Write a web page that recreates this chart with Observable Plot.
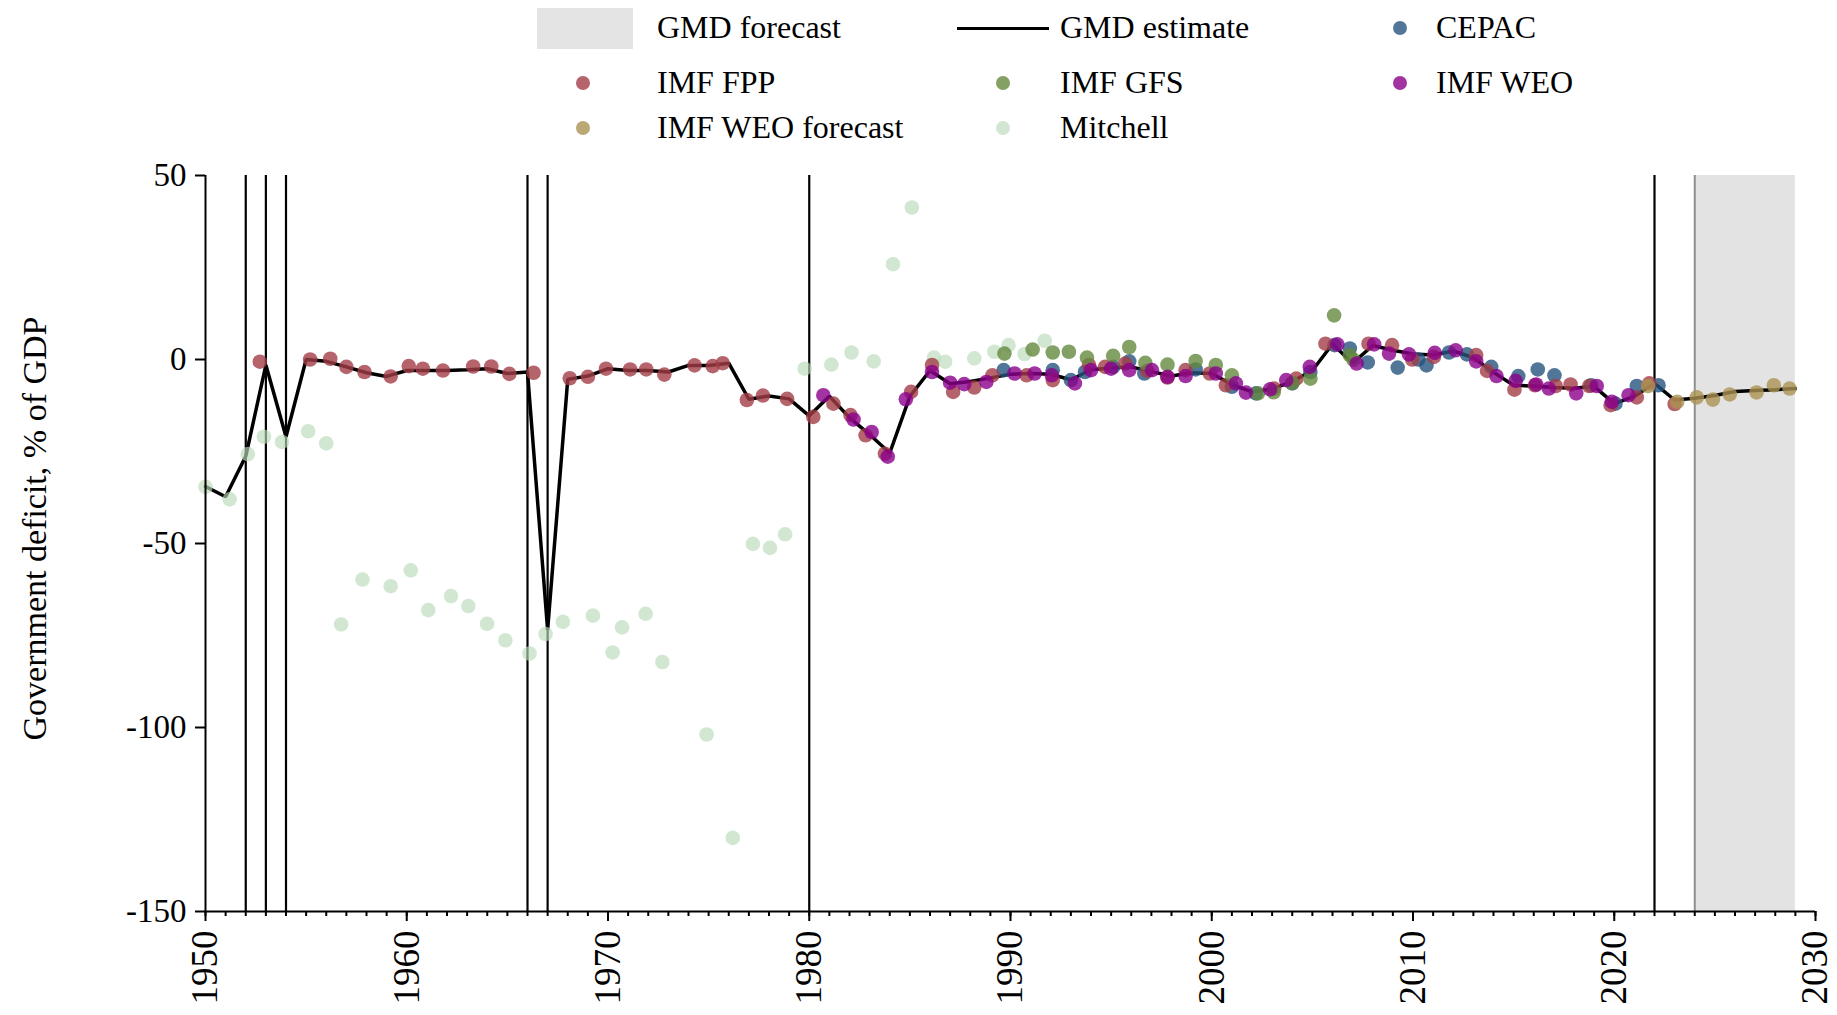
<!DOCTYPE html>
<html>
<head>
<meta charset="utf-8">
<script src="https://cdn.jsdelivr.net/npm/d3@7"></script>
<script src="https://cdn.jsdelivr.net/npm/@observablehq/plot@0.6"></script>
<style>
  html, body { margin: 0; padding: 0; background: white; }
  #wrap { width: 1837px; font-family: "Liberation Serif", "Times New Roman", serif; color: black; }
  #legend { position: relative; width: 1837px; height: 150px; }
  .lg-text { position: absolute; font-size: 32px; line-height: 1; transform: translateY(-52%); white-space: nowrap; }
  .lg-dot { position: absolute; width: 14px; height: 14px; border-radius: 50%; transform: translate(-50%, -50%); }
</style>
</head>
<body>
<div id="wrap">
  <div id="legend"></div>
  <div id="chart"></div>
</div>
<script>
// ---------- data ----------
const gmdYears = [1950,1951,1952,1953,1954,1955,1956,1957,1958,1959,1960,1961,1962,1963,1964,1965,1966,1967,1968,1969,
  1970,1971,1972,1973,1974,1975,1976,1977,1978,1979,1980,1981,1982,1983,1984,1985,1986,1987,1988,1989,
  1990,1991,1992,1993,1994,1995,1996,1997,1998,1999,2000,2001,2002,2003,2004,2005,2006,2007,2008,2009,
  2010,2011,2012,2013,2014,2015,2016,2017,2018,2019,2020,2021,2022,2023,2024,2025,2026,2027,2028,2029];
const gmdValues = [-34.5,-37.3,-26.3,-1.5,-21,0,-0.5,-2,-3.6,-4.6,-3,-3,-3,-2.8,-2.5,-3.8,-3.4,-73.5,-5.4,-4.5,
  -2.5,-3,-3,-3.4,-1.6,-1.6,-1,-10.8,-9.9,-10.7,-15.3,-10,-15.8,-20.4,-25.4,-10,-3,-6.6,-6,-5,
  -4,-3.8,-4,-5.5,-2.8,-2.3,-2,-3.3,-4.5,-3.6,-3.8,-6.8,-8.8,-8,-6,-3,4.2,-1,3.8,2.5,
  1.5,1.2,2.3,0.5,-3.5,-7,-7.2,-7.6,-7.8,-7.3,-12,-10,-6.5,-11,-10.5,-9.8,-8.7,-8.4,-8.2,-7.9];

const fppYears = [1952.7,1955.2,1956.2,1957.0,1957.9,1959.2,1960.1,1960.8,1961.8,1963.3,1964.2,1965.1,1966.3,1968.1,1969.0,1969.9,
  1971.1,1971.9,1972.8,1974.3,1975.2,1975.7,1976.9,1977.7,1978.9,1980.2,1981.2,1982.05,1982.8,1983.76,1985.06,1986.1,
  1987.15,1988.2,1989.1,1990.8,1992.1,1993.9,1994.7,1995.7,1996.8,1997.8,1998.7,1999.9,2000.7,2003.1,2004.2,2005.65,
  2007.79,2008.96,2009.96,2011.04,2013.14,2013.68,2015.04,2016.06,2017.09,2017.83,2018.76,2019.82,2021.12,2021.74,2023.0];
const fppValues = [-0.6,0,0.2,-2,-3.4,-4.6,-1.8,-2.5,-3,-1.9,-1.9,-3.9,-3.6,-5.1,-4.7,-2.5,
  -2.7,-2.7,-4.1,-1.6,-1.8,-1,-11,-9.8,-10.7,-15.6,-12,-15.1,-20.6,-25.6,-8.8,-1.5,
  -8.8,-7.6,-4.3,-4.3,-5.6,-1.5,-2,-1.1,-3.1,-4.9,-2.9,-3.8,-7,-7.9,-5.2,4.3,
  4.3,3.9,0,0.7,1.2,-3.1,-8.2,-7,-7.2,-6.8,-7.2,-12.4,-10.3,-6.5,-12.1];

const weoYears = [1980.7,1982.2,1983.1,1983.9,1984.8,1986.1,1987.0,1987.7,1988.8,1990.2,1991.2,1992.05,1993.2,1994.0,1995.0,1995.9,
  1997.03,1997.8,1998.7,2000.2,2001.2,2001.7,2002.9,2003.7,2004.87,2006.24,2007.2,2008.07,2008.81,2009.8,2011.08,2012.12,
  2013.14,2014.15,2015.1,2016.12,2016.75,2018.11,2019.13,2019.88,2020.71];
const weoValues = [-9.7,-16.3,-19.7,-26.4,-10.8,-3.4,-6.3,-6.7,-6.1,-3.8,-3.8,-4.3,-6.5,-2.9,-2.5,-2.9,
  -2.9,-4.7,-4.5,-3.8,-6.5,-9,-8.1,-5.6,-2,4.1,-1.1,4.1,1.6,1.4,1.8,2.5,
  -0.5,-4.5,-5.8,-6.8,-7.9,-9.2,-7.2,-11.5,-9.7];

const cepacYears = [1989.66,1992.1,1993.0,1993.7,1995.1,1995.9,1996.65,1999.2,2001.0,2002.2,2004.0,2004.9,2006.1,2006.86,
  2007.75,2009.24,2010.26,2010.67,2011.79,2012.68,2013.89,2015.23,2016.2,2017.03,2018.85,2020.06,2021.12,2022.2];
const cepacValues = [-2.9,-2.9,-5.6,-3.4,-2,-0.5,-3.8,-2.7,-7.4,-9.2,-6.5,-3.4,3.9,3,
  -0.8,-2.2,0,-1.6,1.9,1.4,-2,-4.5,-2.7,-4.3,-7,-12,-7.2,-7];

const gfsYears = [1989.7,1991.1,1992.1,1992.9,1993.8,1995.1,1995.9,1996.7,1997.8,1999.2,2000.2,2001.0,2002.3,2003.08,
  2004.0,2004.9,2006.08,2006.86,2007.04];
const gfsValues = [1.6,2.7,1.9,2.1,0.5,1,3.4,-0.9,-1.4,-0.4,-1.5,-4.3,-9.2,-8.9,
  -6.4,-5.2,12,1.2,-0.1];

const weoFcYears = [2021.68,2023.13,2024.1,2024.9,2025.74,2027.07,2027.93,2028.71];
const weoFcValues = [-7.2,-11.5,-10.3,-10.9,-9.5,-8.95,-7,-7.9];

const mitchellYears = [1950.0,1951.2,1952.1,1952.9,1953.8,1955.1,1956.0,1956.74,1957.8,1959.2,1960.2,1961.07,1962.2,1963.06,
  1963.99,1964.9,1966.1,1966.9,1967.76,1969.25,1970.23,1970.7,1971.87,1972.7,1974.9,1976.2,1977.2,1978.05,1978.8,
  1979.77,1981.1,1982.1,1983.2,1984.16,1985.1,1986.2,1986.75,1988.2,1989.2,1989.9,1990.7,1991.7];
const mitchellValues = [-34.6,-38,-25.7,-21,-22.4,-19.5,-22.8,-72,-59.8,-61.6,-57.3,-68.1,-64.3,-67,
  -71.8,-76.3,-79.9,-74.6,-71.3,-69.6,-79.6,-72.8,-69.1,-82.2,-101.9,-130,-50.1,-51.2,-47.5,
  -2.5,-1.4,1.9,-0.5,25.9,41.3,0.5,-0.6,0.3,2.1,3.9,1.5,5.1];

const eventYears = [1952, 1953, 1954, 1966, 1967, 1980, 2022];
const forecastSpan = [2024, 2029];

const xTicks = [1950, 1960, 1970, 1980, 1990, 2000, 2010, 2020, 2030];
const xTickLabels = ["1950", "1960", "1970", "1980", "1990", "2000", "2010", "2020", "2030"];
const xMinorTicks = d3.range(1950, 2031, 1);
const yTicks = [-150, -100, -50, 0, 50];
const yTickLabels = ["-150", "-100", "-50", "0", "50"];

const seriesNames = ["CEPAC", "IMF FPP", "IMF GFS", "IMF WEO", "IMF WEO forecast", "Mitchell"];
const seriesColors = ["#27547e", "#a23d47", "#64883e", "#8b008b", "#ab9251", "#b9dab9"];
const yLabel = "Government deficit, % of GDP";

// ---------- build tables ----------
const SERIF = "Liberation Serif";
const zip = (xs, ys) => xs.map((x, i) => ({x, y: ys[i]}));
const gmd = zip(gmdYears, gmdValues);
const xLab = zip(xTicks, xTickLabels);
const yLab = yTicks.map((v, i) => ({v, t: yTickLabels[i]}));
const colorOf = name => seriesColors[seriesNames.indexOf(name)];
const DOT_R = 7.3, DOT_OP = 0.8;

const dotMark = (data, name, op = DOT_OP) =>
  Plot.dot(data, {x: "x", y: "y", r: DOT_R, fill: colorOf(name), fillOpacity: op, stroke: "none"});

const chart = Plot.plot({
  width: 1837,
  height: 865,
  marginTop: 25,
  marginBottom: 104,
  marginLeft: 205,
  marginRight: 22,
  style: {fontFamily: SERIF, fontSize: "33px", background: "white", color: "black", overflow: "visible"},
  x: {domain: [1950, 2030], axis: null},
  y: {domain: [-150, 50], axis: null},
  marks: [
    Plot.rect([{x1: forecastSpan[0], x2: forecastSpan[1]}], {x1: "x1", x2: "x2", fill: "#e3e3e3"}),
    Plot.ruleX([forecastSpan[0]], {stroke: "#8f8f8f", strokeWidth: 2}),
    Plot.ruleX(eventYears, {stroke: "black", strokeWidth: 2.2}),
    Plot.line(gmd, {x: "x", y: "y", stroke: "black", strokeWidth: 3.5, strokeLinejoin: "miter"}),
    dotMark(zip(mitchellYears, mitchellValues), "Mitchell", 0.65),
    dotMark(zip(cepacYears, cepacValues), "CEPAC"),
    dotMark(zip(fppYears, fppValues), "IMF FPP"),
    dotMark(zip(gfsYears, gfsValues), "IMF GFS"),
    dotMark(zip(weoYears, weoValues), "IMF WEO"),
    dotMark(zip(weoFcYears, weoFcValues), "IMF WEO forecast"),
    Plot.ruleX([1950], {stroke: "black", strokeWidth: 2}),
    Plot.ruleY([-150], {stroke: "black", strokeWidth: 2}),
    Plot.axisX(xMinorTicks, {anchor: "bottom", tickSize: 5, strokeWidth: 2, tickFormat: () => "", label: null}),
    Plot.axisX(xTicks, {anchor: "bottom", tickSize: 10, strokeWidth: 2, tickFormat: () => "", label: null}),
    Plot.axisY(yTicks, {anchor: "left", tickSize: 10, strokeWidth: 2, tickFormat: () => "", label: null}),
    Plot.text(xLab, {x: "x", frameAnchor: "bottom", text: "y", rotate: -90, textAnchor: "end", lineAnchor: "middle", dy: 19, fontSize: 37, fontFamily: SERIF}),
    Plot.text(yLab, {y: "v", frameAnchor: "left", text: "t", textAnchor: "end", lineAnchor: "middle", dx: -19, fontSize: 33, fontFamily: SERIF}),
    Plot.text([yLabel], {frameAnchor: "left", rotate: -90, dx: -170, dy: -15, fontSize: 34, fontFamily: SERIF, textAnchor: "middle"})
  ]
});
document.getElementById("chart").appendChild(chart);

// ---------- legend (HTML) ----------
const legend = document.getElementById("legend");
function addText(label, left, cy) {
  const el = document.createElement("div");
  el.className = "lg-text";
  el.style.left = left + "px";
  el.style.top = cy + "px";
  el.textContent = label;
  legend.appendChild(el);
}
function addDot(name, cx, cy) {
  const el = document.createElement("div");
  el.className = "lg-dot";
  el.style.left = cx + "px";
  el.style.top = cy + "px";
  el.style.background = colorOf(name);
  el.style.opacity = name === "Mitchell" ? 0.65 : DOT_OP;
  legend.appendChild(el);
}
// row 1
const rect = document.createElement("div");
Object.assign(rect.style, {position: "absolute", left: "537px", top: "8px", width: "96px", height: "41px", background: "#e4e4e4"});
legend.appendChild(rect);
addText("GMD forecast", 657, 28);
const ln = document.createElement("div");
Object.assign(ln.style, {position: "absolute", left: "957px", top: "26.5px", width: "92px", height: "3px", background: "black"});
legend.appendChild(ln);
addText("GMD estimate", 1060, 28);
addDot("CEPAC", 1400, 28); addText("CEPAC", 1436, 28);
// row 2
addDot("IMF FPP", 583, 83); addText("IMF FPP", 657, 83);
addDot("IMF GFS", 1003, 83); addText("IMF GFS", 1060, 83);
addDot("IMF WEO", 1400, 83); addText("IMF WEO", 1436, 83);
// row 3
addDot("IMF WEO forecast", 583, 128); addText("IMF WEO forecast", 657, 128);
addDot("Mitchell", 1003, 128); addText("Mitchell", 1060, 128);
</script>
</body>
</html>
